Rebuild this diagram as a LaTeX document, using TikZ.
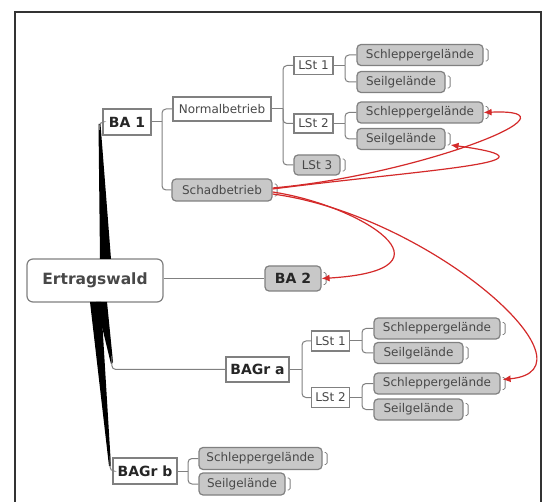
\documentclass[tikz,border=0pt]{standalone}
\usepackage{fontspec}
\setmainfont{DejaVu Sans}
\usetikzlibrary{arrows.meta,calc}
\definecolor{framec}{HTML}{333333}
\definecolor{edgec}{HTML}{808080}
\definecolor{grayfill}{HTML}{C8C8C8}
\definecolor{txt}{HTML}{484848}
\definecolor{redc}{HTML}{D42A2A}
\begin{document}
\begin{tikzpicture}[x=1pt,y=-1pt,
  box/.style={draw=edgec, line width=1.2pt, fill=white, inner sep=0pt, text=txt,
              font=\fontsize{12}{13}\selectfont},
  bbox/.style={box, text=black!85, font=\bfseries\fontsize{14}{15}\selectfont},
  gbox/.style={box, fill=grayfill, rounded corners=4pt},
  gbold/.style={gbox, text=black!85, font=\bfseries\fontsize{14}{15}\selectfont},
  sz/.style 2 args={minimum width=#1, minimum height=#2},
  link/.style={draw=edgec, line width=1pt, rounded corners=4pt},
  rel/.style={draw=redc, line width=1.2pt, -{Latex[length=8pt,width=7pt]}},
  wedge/.style={fill=black, draw=none},
  marker/.style={draw=edgec, line width=0.8pt, rounded corners=1.5pt},
]
\useasboundingbox (0,0) rectangle (546,502);
\fill[white] (0,0) rectangle (546,502);
\draw[framec, line width=1.6pt] (15,505) -- (15,12) -- (541,12) -- (541,505);

% nodes
\node[box, sz={136}{43}, rounded corners=6pt, text=txt,
      font=\bfseries\fontsize{15.5}{17}\selectfont] (ew) at (95,280.5) {Ertragswald};
\node[bbox, sz={48}{26}] (ba1) at (127,122) {BA 1};
\node[box, sz={98}{24}] (nb) at (222,109) {Normalbetrieb};
\node[gbox, sz={100}{22}] (sb) at (222,190) {Schadbetrieb};
\node[box, sz={39}{18}] (l1) at (313.5,65.5) {LSt 1};
\node[gbox, sz={126}{21}] (s11) at (420,55) {Schleppergelände};
\node[gbox, sz={88}{21}] (s12) at (401,82) {Seilgelände};
\node[box, sz={39}{19}] (l2) at (313.5,123.5) {LSt 2};
\node[gbox, sz={126}{21}] (s21) at (420,112.5) {Schleppergelände};
\node[gbox, sz={88}{21}] (s22) at (401,139) {Seilgelände};
\node[gbox, sz={46}{20}] (l3) at (317,165) {LSt 3};

\node[gbold, sz={56}{25}] (ba2) at (293,278.5) {BA 2};

\node[bbox, sz={63}{25}] (bga) at (257.5,369.5) {BAGr a};
\node[box, sz={38}{20}] (la1) at (330.5,341) {LSt 1};
\node[gbox, sz={126}{21}] (a11) at (437,328.5) {Schleppergelände};
\node[gbox, sz={89}{21}] (a12) at (418.5,353) {Seilgelände};
\node[box, sz={38}{20}] (la2) at (330.5,397.5) {LSt 2};
\node[gbox, sz={126}{21}] (a21) at (437,383.5) {Schleppergelände};
\node[gbox, sz={89}{21}] (a22) at (418.5,409.5) {Seilgelände};

\node[bbox, sz={64}{26}] (bgb) at (145,471) {BAGr b};
\node[gbox, sz={123}{22}] (b1) at (260.5,458.5) {Schleppergelände};
\node[gbox, sz={86}{22}] (b2) at (242,484) {Seilgelände};

% end markers of grey nodes
\foreach \n in {sb,s11,s12,s21,s22,l3,ba2,a11,a12,a21,a22,b1,b2}{
  \draw[marker] ($(\n.east)+(2,-6)$) -- ++(2.5,0) -- ++(0,12) -- ++(-2.5,0);
}

% tree links
\draw[link] (ba1.east) -- (162,122);
\draw[link] (162,122) |- (nb.west);
\draw[link] (162,122) |- (sb.west);
\draw[link] (nb.east) -- (283,109);
\draw[link] (283,109) |- (l1.west);
\draw[link] (283,109) |- (l2.west);
\draw[link] (283,109) |- (l3.west);
\draw[link] (l1.east) -- (345,65.5);
\draw[link] (345,65.5) |- (s11.west);
\draw[link] (345,65.5) |- (s12.west);
\draw[link] (l2.east) -- (345,123.5);
\draw[link] (345,123.5) |- (s21.west);
\draw[link] (345,123.5) |- (s22.west);
\draw[link] (bga.east) -- (302,369.5);
\draw[link] (302,369.5) |- (la1.west);
\draw[link] (302,369.5) |- (la2.west);
\draw[link] (la1.east) -- (362,341);
\draw[link] (362,341) |- (a11.west);
\draw[link] (362,341) |- (a12.west);
\draw[link] (la2.east) -- (362,397.5);
\draw[link] (362,397.5) |- (a21.west);
\draw[link] (362,397.5) |- (a22.west);
\draw[link] (bgb.east) -- (188,471);
\draw[link] (188,471) |- (b1.west);
\draw[link] (188,471) |- (b2.west);
\draw[link] (ew.east |- ba2.west) -- (ba2.west);

% tapered main branches
\fill[wedge] (100,259) -- (111,259) -- (100.5,124) -- (98.5,124) -- cycle;
\draw[link] (99.5,130) |- (ba1.west);
\fill[wedge] (96,302) -- (107,302) -- (113,362) -- (111,364) -- cycle;
\draw[link] (111.8,356) |- (bga.west);
\fill[wedge] (90,302) -- (101,302) -- (111,466) -- (109,466) -- cycle;
\draw[link] (110,456) |- (bgb.west);

% red relations
\draw[rel] ($(sb.east)+(0,-2)$) .. controls (420,175) and (590,108) .. (s21.east);
\draw[rel] ($(sb.east)+(0,-1)$) .. controls (420,170) and (575,162) .. ($(s22.east)+(5,6)$);
\draw[rel] ($(sb.east)+(0,2)$) .. controls (360,205) and (465,270) .. (ba2.east);
\draw[rel] ($(sb.east)+(0,4)$) .. controls (430,215) and (605,370) .. ($(a21.east)+(2,-4)$);
\end{tikzpicture}
\end{document}
